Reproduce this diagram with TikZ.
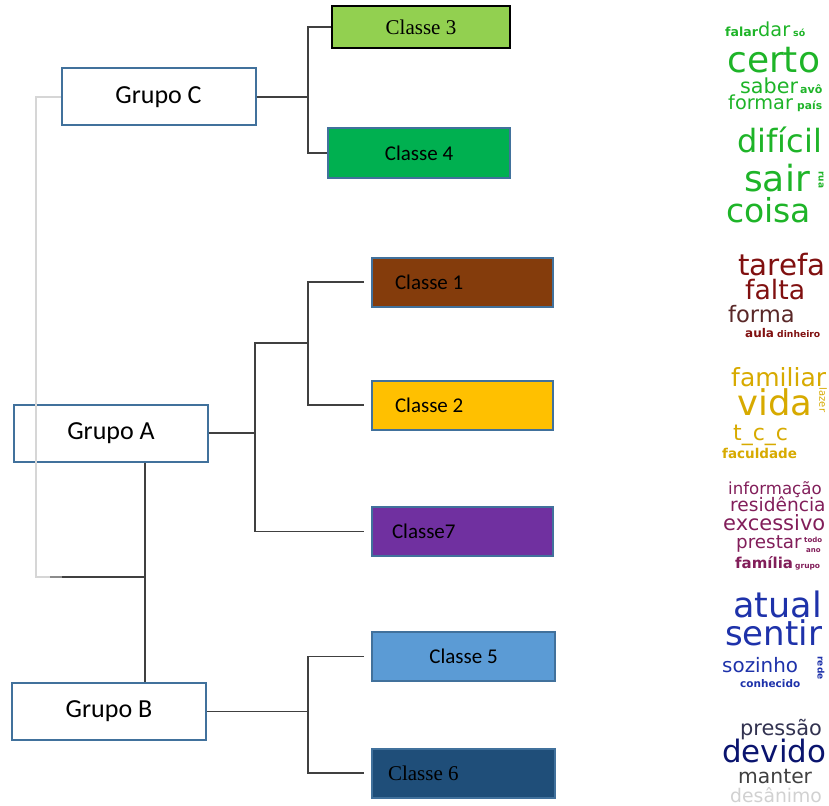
\documentclass[tikz,border=0pt]{standalone}
\usepackage{fontspec}
\setmainfont{Liberation Serif}
\newfontfamily\calibri{Carlito}
\newfontfamily\cloudfont{DejaVu Sans}
\usepackage{xcolor}
\usepackage{tikz}
\usetikzlibrary{positioning}

\definecolor{boxblue}{RGB}{65,113,156}
\definecolor{linegray}{RGB}{64,64,64}
\definecolor{c3green}{RGB}{146,208,80}
\definecolor{c4green}{RGB}{0,176,80}
\definecolor{c1brown}{RGB}{132,60,12}
\definecolor{c2gold}{RGB}{255,192,0}
\definecolor{c7purple}{RGB}{112,48,160}
\definecolor{c5blue}{RGB}{91,155,213}
\definecolor{c6navy}{RGB}{31,78,121}
\definecolor{wgreen}{RGB}{30,180,40}
\definecolor{wred}{RGB}{128,16,16}
\definecolor{wbrown}{RGB}{90,40,40}
\definecolor{wgold}{RGB}{215,170,0}
\definecolor{wpurple}{RGB}{130,30,90}
\definecolor{wblue}{RGB}{30,50,170}
\definecolor{wnavy}{RGB}{10,20,110}
\definecolor{wslate}{RGB}{50,50,80}

\newcommand{\fs}[1]{\fontsize{#1}{#1}\selectfont}
\newcommand{\wf}[1]{\cloudfont\fontsize{#1}{#1}\selectfont}
\newcommand{\wb}[1]{\cloudfont\bfseries\fontsize{#1}{#1}\selectfont}

\begin{document}
\begin{tikzpicture}[x=1pt, y=-1pt]
            \tikzstyle{grupo} = [draw=boxblue, line width=2pt, fill=white, minimum width=194pt, minimum height=57pt, inner sep=0pt, font=\calibri\fs{26}]
            \tikzstyle{classe} = [draw=boxblue, line width=2pt, minimum width=181pt, minimum height=49pt, inner sep=0pt, font=\calibri\fs{21}]
            \tikzstyle{link} = [draw=linegray, line width=1.5pt]
            \tikzstyle{spine} = [draw=black!16, line width=1.5pt]
            \tikzstyle{word} = [inner sep=0pt, anchor=base west]
            \tikzstyle{side} = [inner sep=0pt, rotate=-90]

            \useasboundingbox (0,0) rectangle (829,805);

            \node [grupo] (GC) at (158.5,97) {Grupo C};
            \node [grupo] (GA) at (111,433) {Grupo A};
            \node [grupo] (GB) at (109,711.5) {Grupo B};

            \node [classe, draw=black, line width=2.8pt, fill=c3green, minimum width=178pt, minimum height=42pt, font=\fs{21}] (C3) at (421,27) {Classe 3};
            \node [classe, fill=c4green, minimum width=182pt, minimum height=50pt] (C4) at (419,153) {Classe 4};

            \node [classe, fill=c1brown, inner xsep=23pt, text width=135pt, align=flush left] (C1) at (462.5,282) {Classe 1};
            \node [classe, fill=c2gold, inner xsep=23pt, text width=135pt, align=flush left] (C2) at (462.5,405) {Classe 2};
            \node [classe, fill=c7purple, inner xsep=20pt, text width=141pt, align=flush left] (C7) at (462.5,531.5) {Classe7};

            \node [classe, fill=c5blue, minimum width=183pt] (C5) at (463.5,656.5) {Classe 5};
            \node [classe, fill=c6navy, inner xsep=16pt, text width=151pt, align=flush left, font=\fs{21}] (C6) at (463.5,773) {Classe 6};

            \coordinate (jC) at (308,97);
            \coordinate (jA) at (255,433);
            \coordinate (jA2) at (308,343);
            \coordinate (jB) at (308,711.5);
            \coordinate (root) at (36,577);
            \coordinate (jAB) at (145,577);

            \draw [link] (GC.east) -- (jC);
            \draw [link] (C3.west) -| (jC) |- (C4.west);

            \draw [link] (GA.east) -- (jA);
            \draw [link, shorten <=7pt, shorten >=7pt] (C1.west) -| (jA2) |- (C2.west);
            \draw [link, shorten >=7pt] (jA2) -| (jA) |- (C7.west);

            \draw [link] (GB.east) -- (jB);
            \draw [link, shorten <=7pt, shorten >=7pt] (C5.west) -| (jB) |- (C6.west);

            \draw [spine] (GC.west) -| (root) -- ++(14,0);
            \draw [draw=black!45, line width=1.5pt] ([xshift=14pt]root) -- ([xshift=26pt]root);
            \draw [link] ([xshift=26pt]root) -- (jAB);
            \draw [link] (jAB |- GA.south) -- (jAB |- GB.north);

            % word clouds
            \node [word, text=wgreen, font=\wb{12.5}] (w1) at (725,37) {falar};
            \node [word, text=wgreen, font=\wf{19.3}] (w2) at (758,37) {dar};
            \node [word, text=wgreen, font=\wb{9.4}] (w3) at (793,37) {só};
            \node [word, text=wgreen, font=\wf{36}] (w4) at (727,73) {certo};
            \node [word, text=wgreen, font=\wf{20.7}] (w5) at (740,94) {saber};
            \node [word, text=wgreen, font=\wb{11}] (w6) at (800,94) {avô};
            \node [word, text=wgreen, font=\wf{19.3}] (w7) at (728,110) {formar};
            \node [word, text=wgreen, font=\wb{10.7}] (w8) at (797,110) {país};
            \node [word, text=wgreen, font=\wf{32}] (w9) at (737,153) {difícil};
            \node [word, text=wgreen, font=\wf{36}] (w10) at (744,192) {sair};
            \node [side, text=wgreen, font=\wb{9}] (w11) at (821,180) {rua};
            \node [word, text=wgreen, font=\wf{33}] (w12) at (726,222) {coisa};

            \node [word, text=wred, font=\wf{29.4}] (w13) at (738,275) {tarefa};
            \node [word, text=wred, font=\wf{26.7}] (w14) at (745,299) {falta};
            \node [word, text=wbrown, font=\wf{22.6}] (w15) at (728,322) {forma};
            \node [word, text=wred, font=\wb{12}] (w16) at (745,337) {aula};
            \node [word, text=wred, font=\wb{9.2}] (w17) at (777,337) {dinheiro};

            \node [word, text=wgold, font=\wf{25}] (w18) at (731,386) {familiar};
            \node [word, text=wgold, font=\wf{35.4}] (w19) at (737,415) {vida};
            \node [side, text=wgold, font=\wf{10}] (w20) at (823,400) {lazer};
            \node [word, text=wgold, font=\wf{22}] (w21) at (733,440) {t\_c\_c};
            \node [word, text=wgold, font=\wb{13.5}] (w22) at (722,458) {faculdade};

            \node [word, text=wpurple, font=\wf{16.6}] (w23) at (728,494) {informação};
            \node [word, text=wpurple, font=\wf{18.6}] (w24) at (730,511) {residência};
            \node [word, text=wpurple, font=\wf{21}] (w25) at (723,530) {excessivo};
            \node [word, text=wpurple, font=\wf{18.3}] (w26) at (736,548) {prestar};
            \node [word, text=wpurple, font=\wb{7}] (w27) at (804,542) {todo};
            \node [word, text=wpurple, font=\wb{7}] (w28) at (806,552) {ano};
            \node [word, text=wpurple, font=\wb{15}] (w29) at (735,568) {família};
            \node [word, text=wpurple, font=\wb{7.5}] (w30) at (795,568) {grupo};

            \node [word, text=wblue, font=\wf{35}] (w31) at (733,617) {atual};
            \node [word, text=wblue, font=\wf{34}] (w32) at (725,645) {sentir};
            \node [word, text=wblue, font=\wf{19.9}] (w33) at (722,672) {sozinho};
            \node [side, text=wblue, font=\wb{9}] (w34) at (821,668) {rede};
            \node [word, text=wblue, font=\wb{10.5}] (w35) at (740,687) {conhecido};

            \node [word, text=wslate, font=\wf{20.9}] (w36) at (740,735) {pressão};
            \node [word, text=wnavy, font=\wf{30.9}] (w37) at (722,762) {devido};
            \node [word, text=black!75, font=\wf{20.3}] (w38) at (738,783) {manter};
            \node [word, text=black!18, font=\wf{18.8}] (w39) at (730,802) {desânimo};
\end{tikzpicture}
\end{document}
